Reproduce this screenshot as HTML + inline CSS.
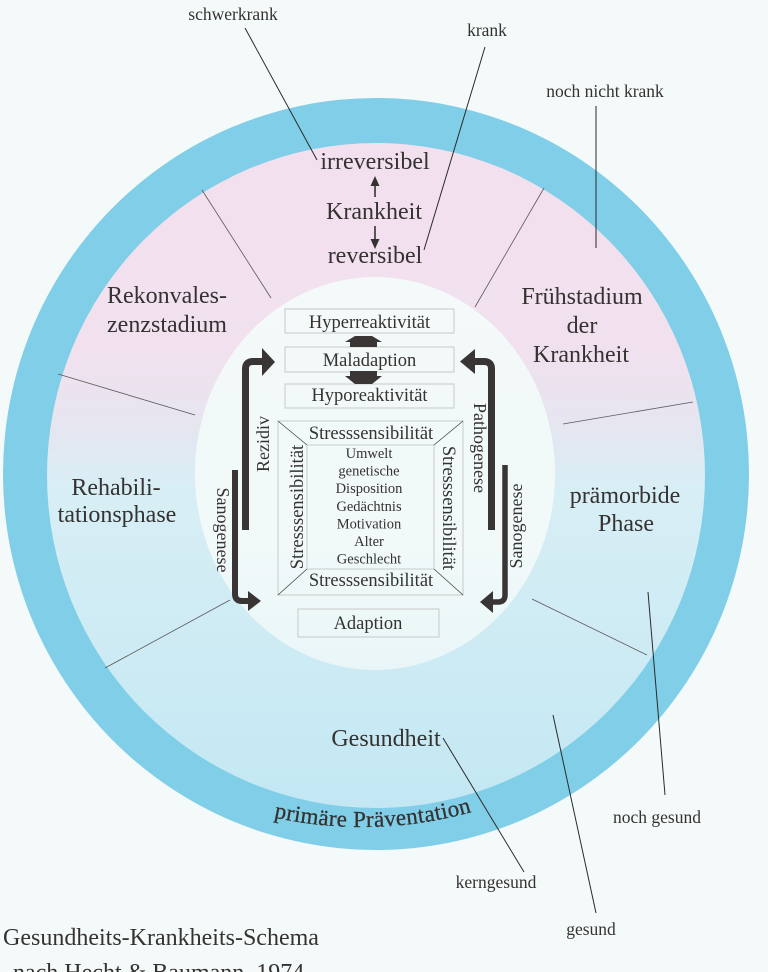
<!DOCTYPE html>
<html><head><meta charset="utf-8"><style>
html,body{margin:0;padding:0;background:#f4faf9;}
svg{display:block;}
text{font-family:"Liberation Serif",serif;fill:#353232;}
</style></head><body>
<svg width="768" height="972" viewBox="0 0 768 972" xmlns="http://www.w3.org/2000/svg">
<defs>
<linearGradient id="g1" gradientUnits="userSpaceOnUse" x1="0" y1="143" x2="0" y2="808">
<stop offset="0" stop-color="#f3e0ee"/>
<stop offset="0.31" stop-color="#f1e1ee"/>
<stop offset="0.42" stop-color="#e6e5f0"/>
<stop offset="0.52" stop-color="#d8eef5"/>
<stop offset="1" stop-color="#c3e8f3"/>
</linearGradient>
<linearGradient id="g2" gradientUnits="userSpaceOnUse" x1="0" y1="277" x2="0" y2="670">
<stop offset="0" stop-color="#f4f9f9"/>
<stop offset="0.7" stop-color="#f1f9f9"/>
<stop offset="1" stop-color="#e9f6f8"/>
</linearGradient>
<path id="arc" d="M190,788.9 A407,407 0 0 0 534,788.9"/>
</defs>
<rect width="768" height="972" fill="#f4faf9"/>
<ellipse cx="376" cy="474" rx="373" ry="376" fill="#80cee7"/>
<ellipse cx="376" cy="475.5" rx="329" ry="332.5" fill="url(#g1)"/>
<ellipse cx="375" cy="473.5" rx="180" ry="196.5" fill="url(#g2)"/>

<!-- dividers -->
<g stroke="#5a5a5a" stroke-width="0.8" fill="none">
<line x1="202" y1="190" x2="271" y2="298"/>
<line x1="544" y1="188" x2="475" y2="307"/>
<line x1="58" y1="374" x2="195" y2="415"/>
<line x1="105" y1="668" x2="230" y2="600"/>
<line x1="563" y1="424" x2="693" y2="402"/>
<line x1="532" y1="599" x2="647" y2="655"/>
</g>
<!-- leaders -->
<g stroke="#2a2a2a" stroke-width="1" fill="none">
<line x1="245" y1="28" x2="317" y2="160"/>
<line x1="485" y1="47" x2="424" y2="250"/>
<line x1="596" y1="106" x2="596" y2="248"/>
<line x1="648" y1="592" x2="665" y2="795"/>
<line x1="553" y1="715" x2="596" y2="913"/>
<line x1="443" y1="738" x2="524" y2="872"/>
</g>

<!-- leader labels -->
<g font-size="17.5" text-anchor="middle">
<text x="233" y="20">schwerkrank</text>
<text x="487" y="36">krank</text>
<text x="605" y="97">noch nicht krank</text>
<text x="657" y="823">noch gesund</text>
<text x="496" y="888">kerngesund</text>
<text x="591" y="935">gesund</text>
</g>

<!-- Krankheit column -->
<g font-size="24" text-anchor="middle">
<text x="375" y="169">irreversibel</text>
<text x="374" y="219">Krankheit</text>
<text x="375" y="263">reversibel</text>
<text x="167" y="303">Rekonvales-</text>
<text x="167" y="332">zenzstadium</text>
<text x="582" y="304">Frühstadium</text>
<text x="582" y="333">der</text>
<text x="581" y="362">Krankheit</text>
<text x="116" y="495">Rehabili-</text>
<text x="117" y="522">tationsphase</text>
<text x="625" y="503">prämorbide</text>
<text x="626" y="531">Phase</text>
<text x="386" y="746">Gesundheit</text>
</g>
<g stroke="#353232" stroke-width="1.6">
<line x1="375" y1="197" x2="375" y2="184"/>
<line x1="375" y1="226" x2="375" y2="241"/>
</g>
<polygon points="375,176 370.5,186 379.5,186" fill="#353232"/>
<polygon points="375,249 370.5,239 379.5,239" fill="#353232"/>

<!-- center boxes -->
<g stroke="#c9c9c9" stroke-width="1" fill="none">
<rect x="285" y="309" width="169" height="24"/>
<rect x="285" y="347" width="169" height="25"/>
<rect x="285" y="384" width="169" height="24"/>
<rect x="298" y="609" width="141" height="28"/>
<rect x="278" y="421" width="185" height="174"/>
<rect x="307" y="445" width="127" height="124"/>
</g>
<g stroke="#444" stroke-width="0.8">
<line x1="278" y1="421" x2="307" y2="445"/>
<line x1="463" y1="421" x2="434" y2="445"/>
<line x1="278" y1="595" x2="307" y2="569"/>
<line x1="463" y1="595" x2="434" y2="569"/>
</g>
<g font-size="18.5" text-anchor="middle">
<text x="369.5" y="328">Hyperreaktivität</text>
<text x="369.5" y="366">Maladaption</text>
<text x="369.5" y="401">Hyporeaktivität</text>
<text x="368" y="629">Adaption</text>
<text x="371" y="439">Stresssensibilität</text>
<text x="371" y="586">Stresssensibilität</text>
<text transform="translate(303,507) rotate(-90)">Stresssensibilität</text>
<text transform="translate(443,508) rotate(90)">Stresssensibilität</text>
</g>
<g font-size="14.5" text-anchor="middle">
<text x="369" y="458">Umwelt</text>
<text x="369" y="475.6">genetische</text>
<text x="369" y="493.2">Disposition</text>
<text x="369" y="510.8">Gedächtnis</text>
<text x="369" y="528.4">Motivation</text>
<text x="369" y="546">Alter</text>
<text x="369" y="563.6">Geschlecht</text>
</g>

<!-- block arrows -->
<g fill="#3a3636">
<polygon points="355,336 372,336 382,342 377,342 377,347 350,347 350,342 345,342"/>
<polygon points="350,371 377,371 377,376 382,376 372,384 355,384 345,376 350,376"/>
</g>

<!-- big arrows -->
<g stroke="#3a3535" fill="none">
<path d="M245.5,530 V369 Q245.5,361.5 253,361.5 H263" stroke-width="7"/>
<path d="M491.5,530 V369 Q491.5,361.5 484,361.5 H474" stroke-width="7"/>
<path d="M235,470 V594 Q235,601 242,601 H249" stroke-width="6"/>
<path d="M505,465 V595 Q505,602 498,602 H492" stroke-width="5.5"/>
</g>
<g fill="#3a3535">
<polygon points="262,348 275,362 262,376"/>
<polygon points="475,349 460,361.5 475,374"/>
<polygon points="248,591 261,601 248,611"/>
<polygon points="493,591 480,602 493,613"/>
</g>
<g font-size="18" text-anchor="middle">
<text transform="translate(269,444) rotate(-90)">Rezidiv</text>
<text transform="translate(474,448) rotate(90)">Pathogenese</text>
<text transform="translate(217,530) rotate(90)">Sanogenese</text>
<text transform="translate(522,526) rotate(-90)">Sanogenese</text>
</g>

<!-- curved text -->
<text font-size="23" stroke="#353232" stroke-width="0.3" text-anchor="middle"><textPath href="#arc" startOffset="188.6" textLength="200" lengthAdjust="spacing">primäre Präventation</textPath></text>

<!-- footer -->
<text x="3" y="945" font-size="24">Gesundheits-Krankheits-Schema</text>
<text x="13" y="980" font-size="24">nach Hecht &amp; Baumann, 1974</text>
</svg>
</body></html>
